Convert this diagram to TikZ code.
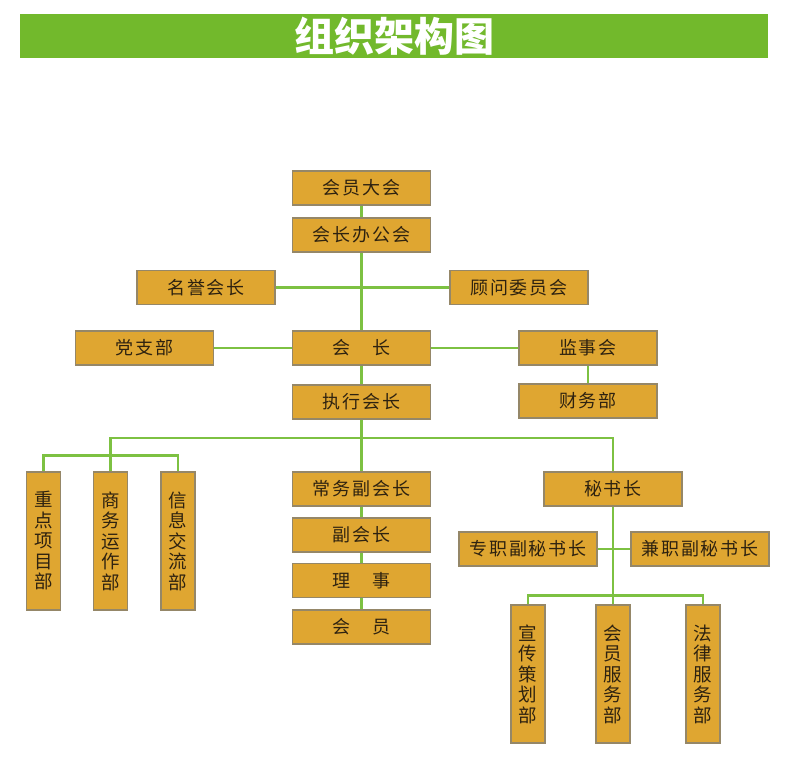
\documentclass[tikz,border=0pt]{standalone}
\usepackage{fontspec}
\usetikzlibrary{backgrounds}
\setmainfont{Noto Sans CJK SC}
\newfontfamily\boxfont[LetterSpace=10]{Noto Sans CJK SC}
\definecolor{bargreen}{HTML}{72B92C}
\definecolor{linegreen}{HTML}{7DC142}
\definecolor{boxfill}{HTML}{DFA631}
\definecolor{boxedge}{HTML}{958768}
\definecolor{boxtext}{HTML}{2E2210}
\tikzset{
  hbox/.style={draw=boxedge, line width=1.2pt, fill=boxfill, minimum width=138pt, minimum height=34pt, inner sep=0pt, text=boxtext, font=\boxfont\fontsize{18}{20}\selectfont},
  vbox/.style={draw=boxedge, line width=1.2pt, fill=boxfill, minimum width=34pt, minimum height=138pt, inner sep=0pt, text=boxtext, font=\fontsize{18.5}{20.5}\selectfont, align=center},
  conn/.style={draw=linegreen, line width=2.4pt}
}
\begin{document}
\begin{tikzpicture}[x=1pt,y=-1pt]
\useasboundingbox (0,0) rectangle (787,760);
\fill[bargreen] (20,14) rectangle (768,58);
\node[text=white, font=\fontsize{40}{44}\selectfont\bfseries] (title) at (394,36) {组织架构图};

\coordinate (br) at (361.5,438);
\node[hbox] (dahui) at (361.5,188) {会员大会};
\node[hbox] (bangong) at (361.5,235) {会长办公会};
\node[hbox] (mingyu) at (206,287.5) {名誉会长};
\node[hbox] (guwen) at (519,287.5) {顾问委员会};
\node[hbox] (dangzhi) at (144.5,348) {党支部};
\node[hbox] (huizhang) at (361.5,348) {会\hspace{1.2em}长};
\node[hbox] (jianshi) at (588,348) {监事会};
\node[hbox] (caiwu) at (588,401) {财务部};
\node[hbox] (zhixing) at (361.5,402) {执行会长};
\node[vbox] (v1) at (43.5,541) {重\\点\\项\\目\\部};
\node[vbox] (v2) at (110.5,541) {商\\务\\运\\作\\部};
\node[vbox] (v3) at (178,541) {信\\息\\交\\流\\部};
\node[hbox] (changwu) at (361.5,489) {常务副会长};
\node[hbox] (fuhui) at (361.5,535) {副会长};
\node[hbox] (lishi) at (361.5,580.5) {理\hspace{1.2em}事};
\node[hbox] (huiyuan) at (361.5,627) {会\hspace{1.2em}员};
\node[hbox] (mishu) at (613,489) {秘书长};
\node[hbox] (zhuanzhi) at (528,549) {专职副秘书长};
\node[hbox] (jianzhi) at (700,549) {兼职副秘书长};
\node[vbox] (w1) at (528,674) {宣\\传\\策\\划\\部};
\node[vbox] (w2) at (613,674) {会\\员\\服\\务\\部};
\node[vbox] (w3) at (703,674) {法\\律\\服\\务\\部};

\begin{scope}[on background layer]
\path[conn] (dahui.south) -- (bangong.north);
\path[conn] (bangong.south) -- (huizhang.north);
\path[conn] (mingyu.east) -- (guwen.west);
\path[conn] (dangzhi.east) -- (huizhang.west);
\path[conn] (huizhang.east) -- (jianshi.west);
\path[conn] (jianshi.south) -- (caiwu.north);
\path[conn] (huizhang.south) -- (zhixing.north);
\path[conn] (zhixing.south) -- (changwu.north);
\path[conn] (changwu.south) -- (fuhui.north);
\path[conn] (fuhui.south) -- (lishi.north);
\path[conn] (lishi.south) -- (huiyuan.north);
\path[conn] (v2.north) |- (br) -| (mishu.north);
\path[conn] (v1.north) -- ++(0,-16) -| (v3.north);
\path[conn] (mishu.south) -- (w2.north);
\path[conn] (zhuanzhi.east) -- (jianzhi.west);
\path[conn] (w1.north) -- ++(0,-9) -| (w3.north);
\end{scope}
\end{tikzpicture}
\end{document}
